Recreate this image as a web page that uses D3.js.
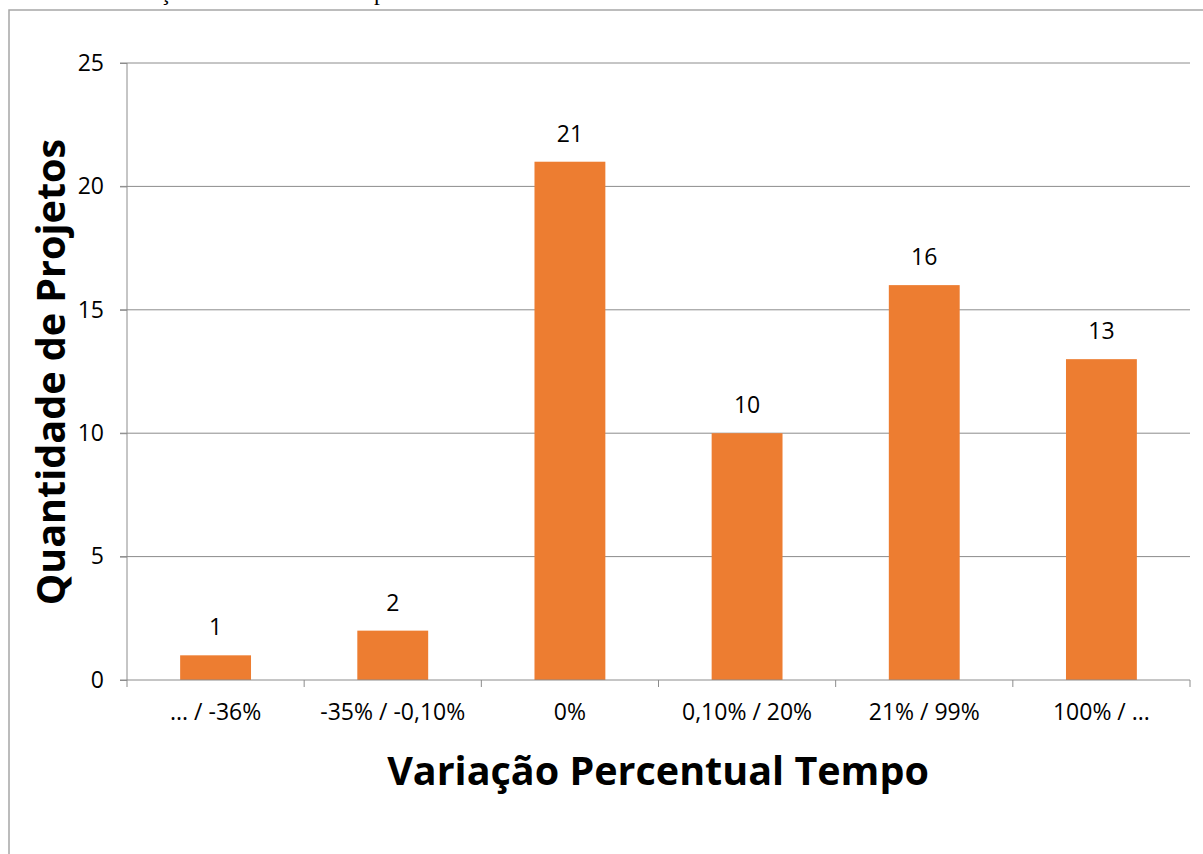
<!DOCTYPE html>
<html><head><meta charset="utf-8">
<script src="https://cdn.jsdelivr.net/npm/d3@7"></script>
<style>body{margin:0;background:#fff}svg{display:block}</style>
</head><body>
<svg id="c" width="1203" height="854"></svg>
<script>
const categories = ["... / -36%", "-35% / -0,10%", "0%", "0,10% / 20%", "21% / 99%", "100% / ..."];
const values = [1, 2, 21, 10, 16, 13];
const yTicks = [0, 5, 10, 15, 20, 25];

const svg = d3.select("#c");
const font = "Open Sans, Noto Sans, sans-serif";

// cut-off caption above the chart (only descenders visible)
svg.append("text").attr("x", -2).attr("y", 0)
  .attr("font-family", "Liberation Serif, serif").attr("font-size", 23.5)
  .text("Gráfico 5 – Variação Percentual do Tempo");

// frame
svg.append("rect").attr("x", 9).attr("y", 10).attr("width", 1220).attr("height", 900)
  .attr("fill", "#fff").attr("stroke", "#a6a6a6").attr("stroke-width", 1.5);

const x = d3.scaleBand().domain(categories).range([127, 1190]).paddingInner(0.6).paddingOuter(0.3);
const xb = d3.scaleBand().domain(categories).range([127, 1190]);
const y = d3.scaleLinear().domain([0, 25]).range([680, 63]);

// gridlines
svg.append("g").selectAll("line").data(yTicks.filter(d => d > 0)).join("line")
  .attr("x1", 120).attr("x2", 1190).attr("y1", d => y(d)).attr("y2", d => y(d))
  .attr("stroke", "#8c8c8c").attr("stroke-width", 1);

// y axis
const ya = svg.append("g").attr("transform", "translate(127,0)")
  .call(d3.axisLeft(y).tickValues(yTicks).tickSize(7).tickPadding(16));
ya.select(".domain").attr("stroke", "#8c8c8c").attr("d", "M0,63V680");
ya.selectAll(".tick line").attr("stroke", "#8c8c8c");
ya.selectAll("text").attr("font-family", font).attr("font-size", 23).attr("fill", "#000");

// bars
svg.append("g").selectAll("rect").data(values).join("rect")
  .attr("x", (d, i) => x(categories[i])).attr("width", x.bandwidth())
  .attr("y", d => y(d)).attr("height", d => y(0) - y(d)).attr("fill", "#ED7D31");

// x axis
const xa = svg.append("g").attr("transform", "translate(0,680)")
  .call(d3.axisBottom(xb).tickSize(0).tickPadding(24));
xa.select(".domain").attr("stroke", "#8c8c8c").attr("d", "M120,0H1190");
xa.selectAll("text").attr("font-family", font).attr("font-size", 23).attr("fill", "#000");
svg.append("g").selectAll("line").data(d3.range(categories.length + 1)).join("line")
  .attr("x1", i => 127 + i * xb.step()).attr("x2", i => 127 + i * xb.step())
  .attr("y1", 680).attr("y2", 687).attr("stroke", "#8c8c8c");

// data labels
svg.append("g").selectAll("text").data(values).join("text")
  .attr("x", (d, i) => x(categories[i]) + x.bandwidth() / 2).attr("y", d => y(d) - 20)
  .attr("text-anchor", "middle").attr("font-family", font).attr("font-size", 23).text(d => d);

// titles
svg.append("text").attr("x", 658).attr("y", 785).attr("text-anchor", "middle")
  .attr("font-family", font).attr("font-weight", "bold").attr("font-size", 39.5)
  .text("Variação Percentual Tempo");
svg.append("text").attr("transform", "translate(65,372) rotate(-90)").attr("text-anchor", "middle")
  .attr("font-family", font).attr("font-weight", "bold").attr("font-size", 39.5)
  .text("Quantidade de Projetos");
</script>
</body></html>
